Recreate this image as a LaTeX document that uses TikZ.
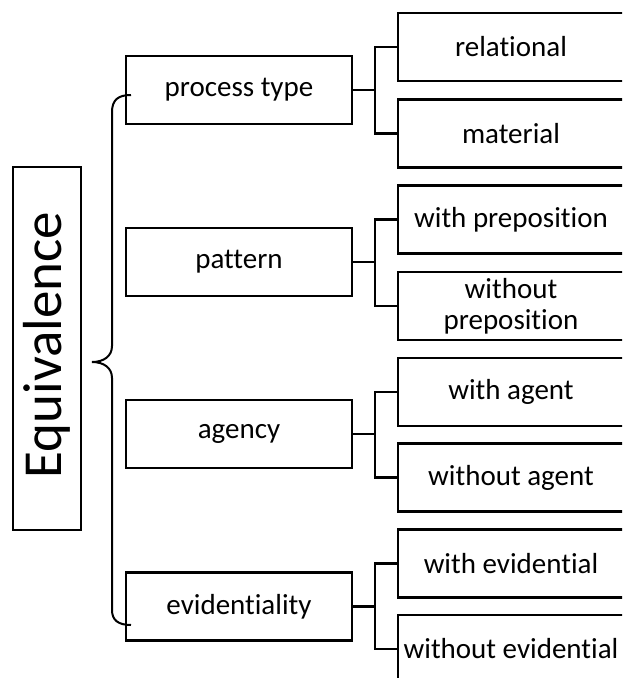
\documentclass[tikz,border=0pt]{standalone}
\usepackage{fontspec}
\setmainfont[Ligatures=NoCommon]{Carlito}
\begin{document}
\begin{tikzpicture}[x=1pt,y=-1pt,
  box/.style={draw,line width=2.2pt,rectangle,inner sep=0pt,align=center,font=\fontsize{29}{31}\selectfont},
  midbox/.style={box,minimum width=226pt,minimum height=68pt},
  leafbox/.style={box,minimum width=226pt,minimum height=68pt},
  link/.style={line width=2.2pt},
  brace/.style={line width=2pt}]
\useasboundingbox (0,0) rectangle (622,678);
\begin{scope}
\clip (0,0) rectangle (622,678);
% root
\node[draw,line width=2.2pt,minimum width=68pt,minimum height=363pt,inner sep=0pt] (root) at (47,348.5) {};
\node[rotate=90,font=\fontsize{55}{60}\selectfont] (rootlabel) at (47,345) {Equivalence};
% middle boxes
\node[midbox] (pt) at (239,90) {process type};
\node[midbox] (pa) at (239,262) {pattern};
\node[midbox] (ag) at (239,434) {agency};
\node[midbox] (ev) at (239,606.5) {evidentiality};
% leaf boxes
\node[leafbox] (rel) at (511,47) {relational};
\node[leafbox] (mat) at (511,133.5) {material};
\node[leafbox] (wp) at (511,219.5) {with preposition};
\node[leafbox] (wop) at (511,306) {without\\preposition};
\node[leafbox] (wa) at (511,392) {with agent};
\node[leafbox] (woa) at (511,477.5) {without agent};
\node[leafbox] (we) at (511,563.5) {with evidential};
\node[leafbox] (woe) at (511,649) {without evidential};
% junctions
\coordinate (j1) at (375,90);
\coordinate (j2) at (375,262);
\coordinate (j3) at (375,434);
\coordinate (j4) at (375,606.5);
\draw[link] (pt.east) -- (j1);
\draw[link] (rel.west) -| (j1) |- (mat.west);
\draw[link] (pa.east) -- (j2);
\draw[link] (wp.west) -| (j2) |- (wop.west);
\draw[link] (ag.east) -- (j3);
\draw[link] (wa.west) -| (j3) |- (woa.west);
\draw[link] (ev.east) -- (j4);
\draw[link] (we.west) -| (j4) |- (woe.west);
% brace
\coordinate (btop) at (131,95);
\coordinate (bbot) at (131,625);
\coordinate (btip) at (92,362);
\draw[brace] (btop) .. controls (118,95) and (112,100) .. (112,112)
  -- (112,346) .. controls (112,356) and (104,362) .. (btip)
  .. controls (104,362) and (112,368) .. (112,378)
  -- (112,610) .. controls (112,620) and (118,625) .. (bbot);
\end{scope}
\end{tikzpicture}
\end{document}
